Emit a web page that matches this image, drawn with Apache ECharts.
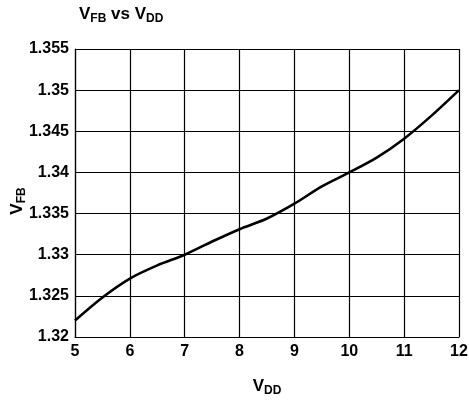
<!DOCTYPE html>
<html>
<head>
<meta charset="utf-8">
<script src="https://cdn.jsdelivr.net/npm/echarts@6/dist/echarts.min.js"></script>
<style>html,body{margin:0;padding:0;background:#fff;}#c{width:469px;height:402px;}</style>
</head>
<body>
<div id="c"></div>
<script>
const xValues = [5, 5.5, 6, 6.5, 7, 7.5, 8, 8.5, 9, 9.5, 10, 10.5, 11, 11.5, 12];
const vfbValues = [1.3220, 1.3248, 1.3271, 1.3287, 1.3300, 1.3316, 1.3331, 1.3344, 1.3362, 1.3383, 1.3400, 1.3418, 1.3441, 1.3469, 1.3500];
const yMin = 1.32, yMax = 1.355, yStep = 0.005;
const xMin = 5, xMax = 12, xStep = 1;

const FONT = '"Liberation Sans", Arial, sans-serif';
const chart = echarts.init(document.getElementById('c'), null, {renderer: 'canvas'});
const rich = {
  v: {fontSize: 17, fontWeight: 'bold', fontFamily: FONT, color: '#000', lineHeight: 18, verticalAlign: 'middle'},
  s: {fontSize: 12, fontWeight: 'bold', fontFamily: FONT, color: '#000', lineHeight: 18, verticalAlign: 'middle', padding: [9, 0, 0, 0]}
};
chart.setOption({
  animation: false,
  backgroundColor: '#fff',
  title: {
    text: '{v|V}{s|FB}{v| vs V}{s|DD}',
    left: 74, top: 0,
    textStyle: {rich: rich}
  },
  grid: {left: 75, right: 10, top: 49, bottom: 65, containLabel: false, outerBoundsMode: 'none'},
  xAxis: {
    type: 'value', min: xMin, max: xMax, interval: xStep,
    name: '{v|V}{s|DD}', nameLocation: 'middle', nameGap: 40, nameMoveOverlap: false,
    nameTextStyle: {rich: rich},
    axisLine: {show: true, lineStyle: {color: '#000', width: 1.2}},
    axisTick: {show: false},
    axisLabel: {color: '#000', fontSize: 16, fontWeight: 'bold', fontFamily: FONT, margin: 7},
    splitLine: {show: true, lineStyle: {color: '#000', width: 1.2}}
  },
  yAxis: {
    type: 'value', min: yMin, max: yMax, interval: yStep,
    name: '{v|V}{s|FB}', nameLocation: 'middle', nameGap: 49, nameRotate: 90, nameMoveOverlap: false,
    nameTextStyle: {rich: rich, padding: [0, 16, 0, 0]},
    axisLine: {show: true, lineStyle: {color: '#000', width: 1.2}},
    axisTick: {show: false},
    axisLabel: {color: '#000', fontSize: 16, fontWeight: 'bold', fontFamily: FONT, margin: 6,
      formatter: v => String(+v.toFixed(3))},
    splitLine: {show: true, lineStyle: {color: '#000', width: 1.2}}
  },
  series: [{
    type: 'line',
    data: xValues.map((x, i) => [x, vfbValues[i]]),
    smooth: 0.3,
    showSymbol: false,
    lineStyle: {color: '#000', width: 2.6},
    clip: true
  }]
});
</script>
</body>
</html>
